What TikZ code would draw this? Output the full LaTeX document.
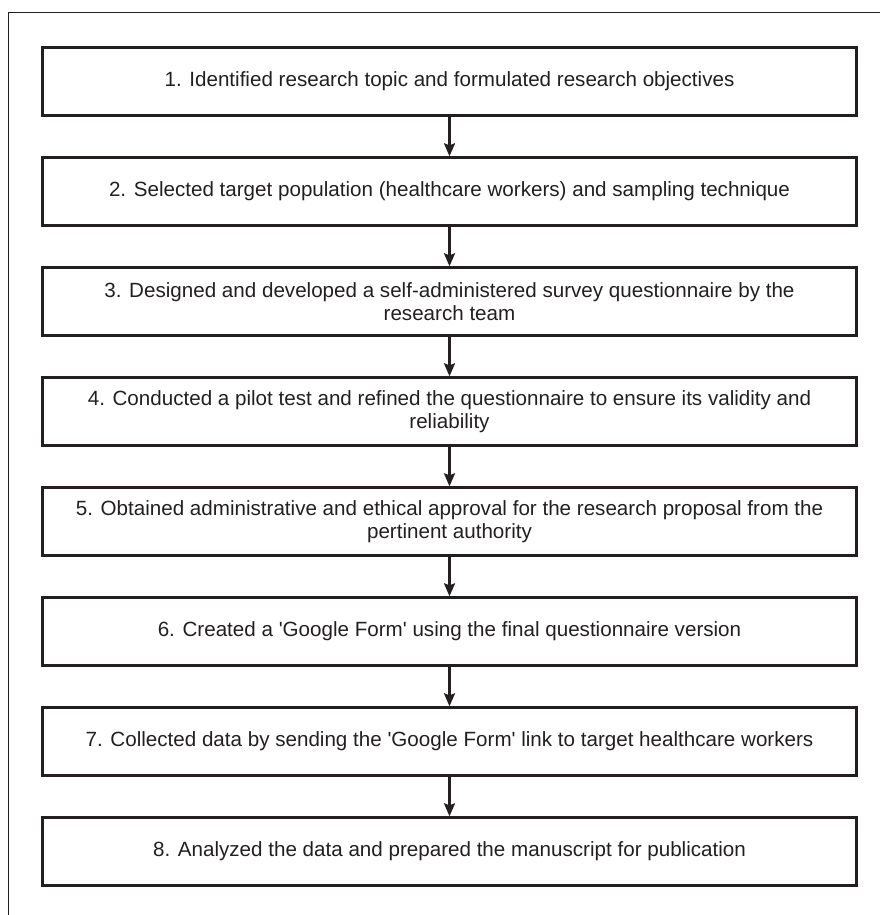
\documentclass[tikz,border=0pt]{standalone}
\usepackage{fontspec}
\setmainfont{Liberation Sans}
\usetikzlibrary{arrows.meta,positioning}

\definecolor{inkgray}{RGB}{35,31,32}

\begin{document}
\begin{tikzpicture}[x=1pt,y=-1pt,
  stepbox/.style={draw=inkgray,line width=2.4pt,minimum width=814pt,minimum height=68pt,
    inner sep=0pt,align=center,text=inkgray,font=\fontsize{20.6}{22.5}\selectfont},
  flow/.style={draw=inkgray,line width=2.2pt,-{Stealth[length=13pt,width=11pt,inset=2pt]}}]
\useasboundingbox (0,0) rectangle (880,915);
\draw[inkgray,line width=1.1pt] (8.5,915) -- (8.5,12.5) -- (880,12.5);
\node[stepbox] (S1) at (449.5,81.5) {1. Identified research topic and formulated research objectives};
\node[stepbox] (S2) at (449.5,191.5) {2. Selected target population (healthcare workers) and sampling technique};
\node[stepbox] (S3) at (449.5,301.5) {3. Designed and developed a self-administered survey questionnaire by the\\research team};
\node[stepbox] (S4) at (449.5,411.5) {4. Conducted a pilot test and refined the questionnaire to ensure its validity and\\reliability};
\node[stepbox] (S5) at (449.5,521.5) {5. Obtained administrative and ethical approval for the research proposal from the\\pertinent authority};
\node[stepbox] (S6) at (449.5,631.5) {6. Created a \textquotesingle Google Form\textquotesingle\ using the final questionnaire version};
\node[stepbox] (S7) at (449.5,741.5) {7. Collected data by sending the \textquotesingle Google Form\textquotesingle\ link to target healthcare workers};
\node[stepbox] (S8) at (449.5,851.5) {8. Analyzed the data and prepared the manuscript for publication};
\draw[flow] (S1) -- (S2);
\draw[flow] (S2) -- (S3);
\draw[flow] (S3) -- (S4);
\draw[flow] (S4) -- (S5);
\draw[flow] (S5) -- (S6);
\draw[flow] (S6) -- (S7);
\draw[flow] (S7) -- (S8);
\end{tikzpicture}
\end{document}
